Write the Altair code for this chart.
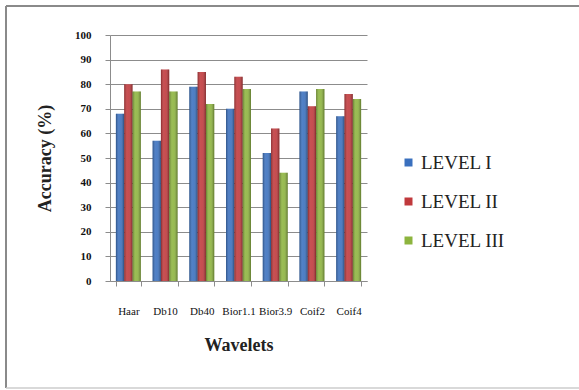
import altair as alt
import pandas as pd

# Classification accuracy per wavelet family at three decomposition levels
wavelets = ["Haar", "Db10", "Db40", "Bior1.1", "Bior3.9", "Coif2", "Coif4"]
levels = ["LEVEL I", "LEVEL II", "LEVEL III"]
level_1 = [68, 57, 79, 70, 52, 77, 67]
level_2 = [80, 86, 85, 83, 62, 71, 76]
level_3 = [77, 77, 72, 78, 44, 78, 74]
level_colors = ["#3A70BE", "#C0393C", "#8DB43E"]
y_ticks = list(range(0, 101, 10))

rows = []
for lvl, vals in zip(levels, [level_1, level_2, level_3]):
    for w, v in zip(wavelets, vals):
        rows.append({"Wavelet": w, "Level": lvl, "Accuracy": v})
df = pd.DataFrame(rows)

SERIF = "Liberation Serif"
W, H = 257, 246

x_enc = alt.X(
    "Wavelet:N",
    sort=wavelets,
    scale=alt.Scale(paddingInner=0.32, paddingOuter=0.16),
    axis=alt.Axis(
        title="Wavelets",
        titleFont=SERIF,
        titleFontSize=18,
        titleFontWeight="bold",
        titleColor="#222222",
        titlePadding=20,
        labelFont=SERIF,
        labelFontSize=11,
        labelColor="#111111",
        labelAngle=0,
        labelPadding=19,
        tickBand="extent",
        tickSize=5,
        tickColor="#8c8c8c",
        domainColor="#8c8c8c",
        grid=False,
    ),
)
y_enc = alt.Y(
    "Accuracy:Q",
    scale=alt.Scale(domain=[0, 100], nice=False),
    axis=alt.Axis(
        title="Accuracy (%)",
        values=y_ticks,
        titleFont=SERIF,
        titleFontSize=18,
        titleFontWeight="bold",
        titleColor="#222222",
        titlePadding=20,
        labelFont=SERIF,
        labelFontSize=11,
        labelFontWeight="bold",
        labelColor="#111111",
        labelPadding=14,
        tickSize=5,
        tickColor="#8c8c8c",
        domainColor="#8c8c8c",
        gridColor="#8c8c8c",
        gridWidth=1,
    ),
)

x_offset = alt.XOffset("Level:N", sort=levels, scale=alt.Scale(domain=levels))

bars = alt.Chart(df).mark_bar(size=8.3).encode(
    x=x_enc,
    y=y_enc,
    xOffset=x_offset,
    color=alt.Color(
        "Level:N",
        sort=levels,
        scale=alt.Scale(domain=levels, range=level_colors),
        legend=alt.Legend(
            title=None,
            orient="none",
            legendX=289,
            legendY=118,
            symbolType="square",
            symbolSize=64,
            symbolStrokeWidth=0,
            labelFont=SERIF,
            labelFontSize=19,
            labelColor="#222222",
            labelOffset=3,
            rowPadding=19,
        ),
    ),
)

# Cylinder-like shading laid over each bar: dark edges, lighter middle
shade = alt.Gradient(
    gradient="linear",
    x1=0, y1=0, x2=1, y2=0,
    stops=[
        alt.GradientStop(offset=0, color="rgba(0,0,0,0.30)"),
        alt.GradientStop(offset=0.35, color="rgba(255,255,255,0.12)"),
        alt.GradientStop(offset=0.55, color="rgba(255,255,255,0.10)"),
        alt.GradientStop(offset=1, color="rgba(0,0,0,0.35)"),
    ],
)
shading = alt.Chart(df).mark_bar(size=8.3, fill=shade).encode(
    x=x_enc,
    y=y_enc,
    xOffset=x_offset,
)

# Outer frame of the chart area
frame_dark = alt.Chart(pd.DataFrame({"k": [0]})).mark_rule(
    color="#8a8a8a", strokeWidth=2
)
frame_top = frame_dark.encode(x=alt.value(-104), x2=alt.value(469), y=alt.value(-29))
frame_left = frame_dark.encode(x=alt.value(-104), y=alt.value(-29), y2=alt.value(353))
frame_bottom = alt.Chart(pd.DataFrame({"k": [0]})).mark_rule(
    color="#cccccc", strokeWidth=1.5
).encode(x=alt.value(-104), x2=alt.value(469), y=alt.value(353))

chart = (
    alt.layer(bars, shading, frame_top, frame_left, frame_bottom)
    .properties(
        width=W,
        height=H,
        padding={"left": 110, "top": 35, "right": 212, "bottom": 109},
        autosize=alt.AutoSizeParams(type="none"),
        background="white",
    )
    .configure_view(stroke=None)
)

chart.save("out.html", embed_options={"renderer": "svg", "actions": False})
